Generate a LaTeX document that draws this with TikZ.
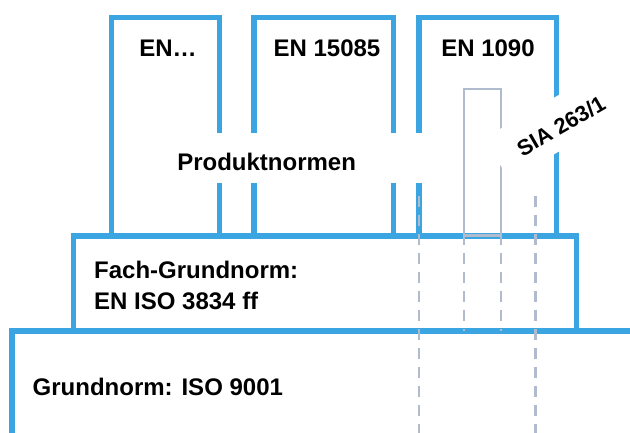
\documentclass[tikz,border=0pt]{standalone}
\usepackage{fontspec}
\setmainfont{Liberation Sans}
\definecolor{normblue}{RGB}{59,165,225}
\definecolor{normgrey}{RGB}{176,188,206}
\begin{document}
\begin{tikzpicture}[x=1pt,y=-1pt,
  blueline/.style={draw=normblue,line width=5.6pt},
  greyline/.style={draw=normgrey,line width=2.6pt},
  guide/.style={draw=normgrey,line width=2.4pt,dash pattern=on 10.5pt off 8.5pt},
  lbl/.style={font=\bfseries\fontsize{24}{28}\selectfont,inner sep=0pt},
  sialbl/.style={font=\bfseries\fontsize{22}{26}\selectfont,inner sep=0pt},
  cover/.style={fill=white,draw=none,inner sep=0pt}]
\useasboundingbox (0,0) rectangle (630,432);
% Grundnorm
\draw[blueline] (11.8,445) |- (645,331);
% Fach-Grundnorm
\draw[blueline] (73.3,331) |- (576.5,236) -- (576.5,331);
% Produktnormen boxes
\draw[blueline] (111.3,236) |- (219.6,17.5) -- (219.6,236);
\draw[blueline] (254,236) |- (393.5,17.5) -- (393.5,236);
\draw[blueline] (418.8,236) |- (556.5,17.5) -- (556.5,236);
% SIA 263/1 inner frame
\draw[greyline] (464,89) rectangle (501,235.4);
% guide lines
\draw[guide] (419,196) -- (419,445);
\draw[guide] (535.3,196) -- (535.3,445);
\draw[guide] (464,196) -- (464,331);
\draw[guide] (501,196) -- (501,331);
% label backgrounds
\fill[white] (150,133) rectangle (440,183);
\node[cover,rotate=30,minimum width=148pt,minimum height=49pt] (siacover) at (561,122) {};
% labels
\node[lbl,anchor=base] (en1) at (168,56.7) {EN…};
\node[lbl,anchor=base] (en2) at (327,56.7) {EN 15085};
\node[lbl,anchor=base] (en3) at (488,56.7) {EN 1090};
\node[lbl,anchor=base] (prod) at (266.6,170) {Produktnormen};
\node[sialbl,rotate=30] (sia) at (561,126) {SIA 263/1};
\node[lbl,anchor=base west] (fach1) at (94,278.3) {Fach-Grundnorm:};
\node[lbl,anchor=base west] (fach2) at (94,309.3) {EN ISO 3834 ff};
\node[lbl,anchor=base west] (grund) at (32.5,395.7) {Grundnorm: ISO 9001};
\end{tikzpicture}
\end{document}
